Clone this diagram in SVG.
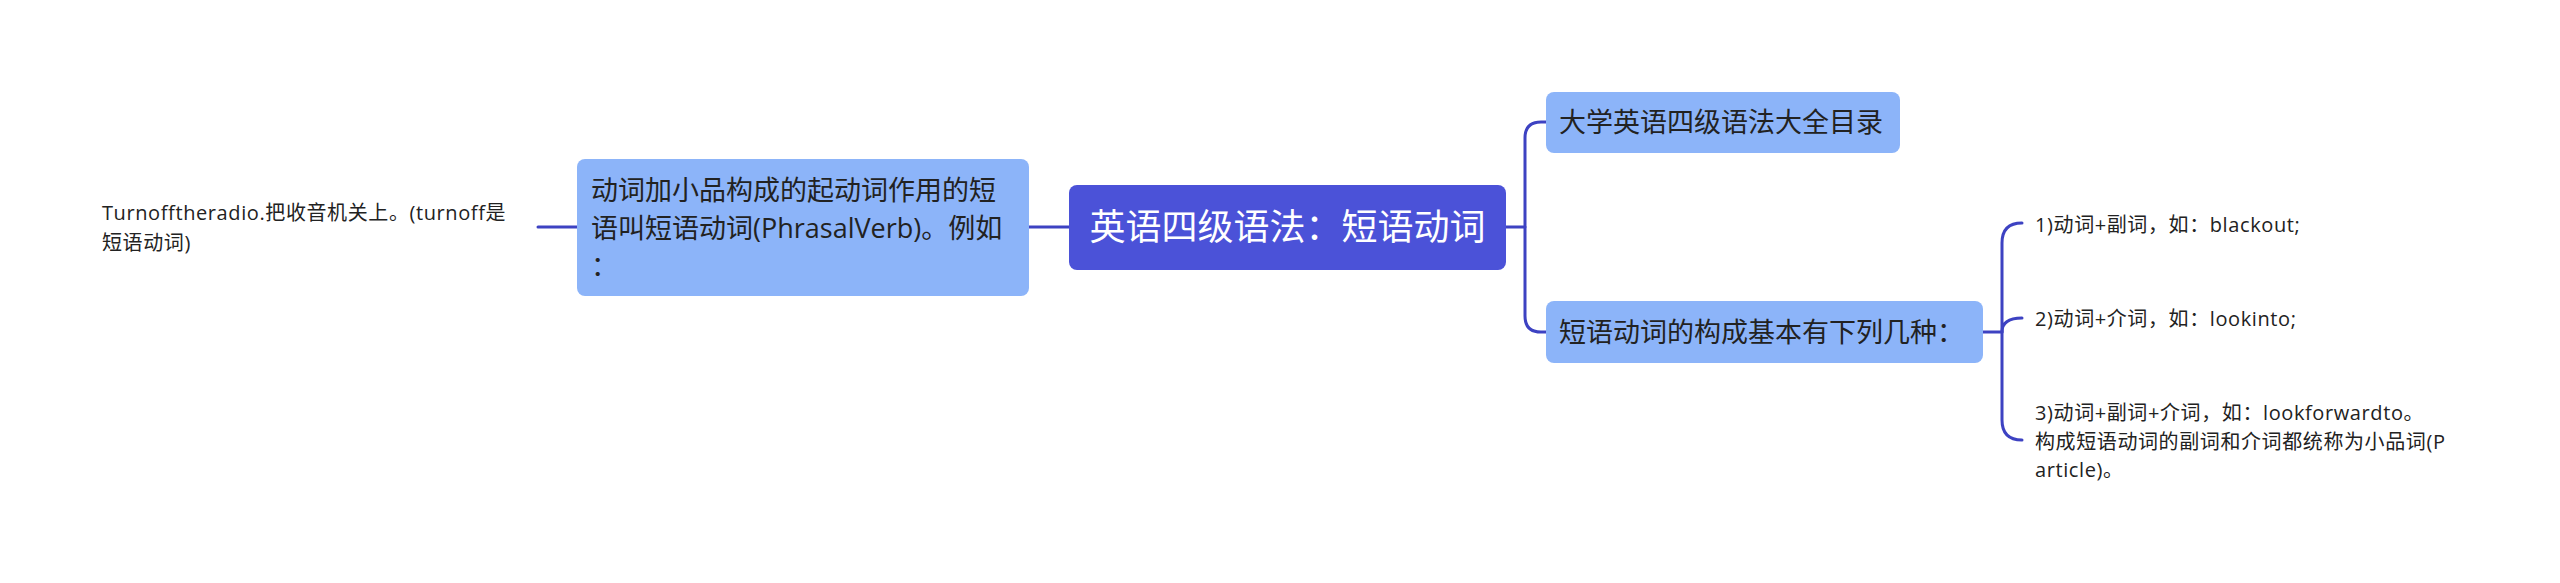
<svg xmlns="http://www.w3.org/2000/svg" width="2560" height="583" viewBox="0 0 2560 583">
<style>
text{font-family:"Open Sans","Noto Sans CJK SC",sans-serif;fill:#222;}
.l{fill:none;stroke:#3d42c2;stroke-width:3;stroke-linecap:round;}
.sub{fill:#8cb4f9;}
.f27{font-size:27px;}
.f20{font-size:20px;letter-spacing:0.6px;}
</style>
<rect width="2560" height="583" fill="#fff"/>
<g id="connectors">
<path class="l" d="M1069,227 H1029"/>
<path class="l" d="M577,227 H538"/>
<path class="l" d="M1506,227 H1525"/>
<path class="l" d="M1546,122 H1541 Q1525,122 1525,138 V316 Q1525,332 1541,332 H1546"/>
<path class="l" d="M1983,332 H2002"/>
<path class="l" d="M2022,223 Q2002,223 2002,243 V420 Q2002,440 2022,440"/>
<path class="l" d="M2002,332 Q2002,318 2022,318"/>
</g>
<g id="root">
<rect x="1069" y="185" width="437" height="85" rx="8" fill="#4b52d8"/>
<text x="1287.5" y="240" font-size="36" text-anchor="middle" style="fill:#fff">英语四级语法：短语动词</text>
</g>
<g id="left">
<rect class="sub" x="577" y="159" width="452" height="137" rx="8"/>
<text class="f27" x="591" y="200">动词加小品构成的起动词作用的短</text>
<text class="f27" x="591" y="238">语叫短语动词(PhrasalVerb)。例如</text>
<text class="f27" x="591" y="276">：</text>
</g>
<g id="leaf">
<text class="f20" x="102" y="220">Turnofftheradio.把收音机关上。(turnoff是</text>
<text class="f20" x="102" y="250">短语动词)</text>
</g>
<g id="n1">
<rect class="sub" x="1546" y="92" width="354" height="61" rx="8"/>
<text class="f27" x="1559" y="132">大学英语四级语法大全目录</text>
</g>
<g id="n2">
<rect class="sub" x="1546" y="301" width="437" height="62" rx="8"/>
<text class="f27" x="1559" y="342">短语动词的构成基本有下列几种：</text>
</g>
<g id="i1">
<text class="f20" x="2035" y="232">1)动词+副词，如：blackout;</text>
</g>
<g id="i2">
<text class="f20" x="2035" y="326">2)动词+介词，如：lookinto;</text>
</g>
<g id="i3">
<text class="f20" x="2035" y="420">3)动词+副词+介词，如：lookforwardto。</text>
<text class="f20" x="2035" y="449">构成短语动词的副词和介词都统称为小品词(P</text>
<text class="f20" x="2035" y="477">article)。</text>
</g>
</svg>
